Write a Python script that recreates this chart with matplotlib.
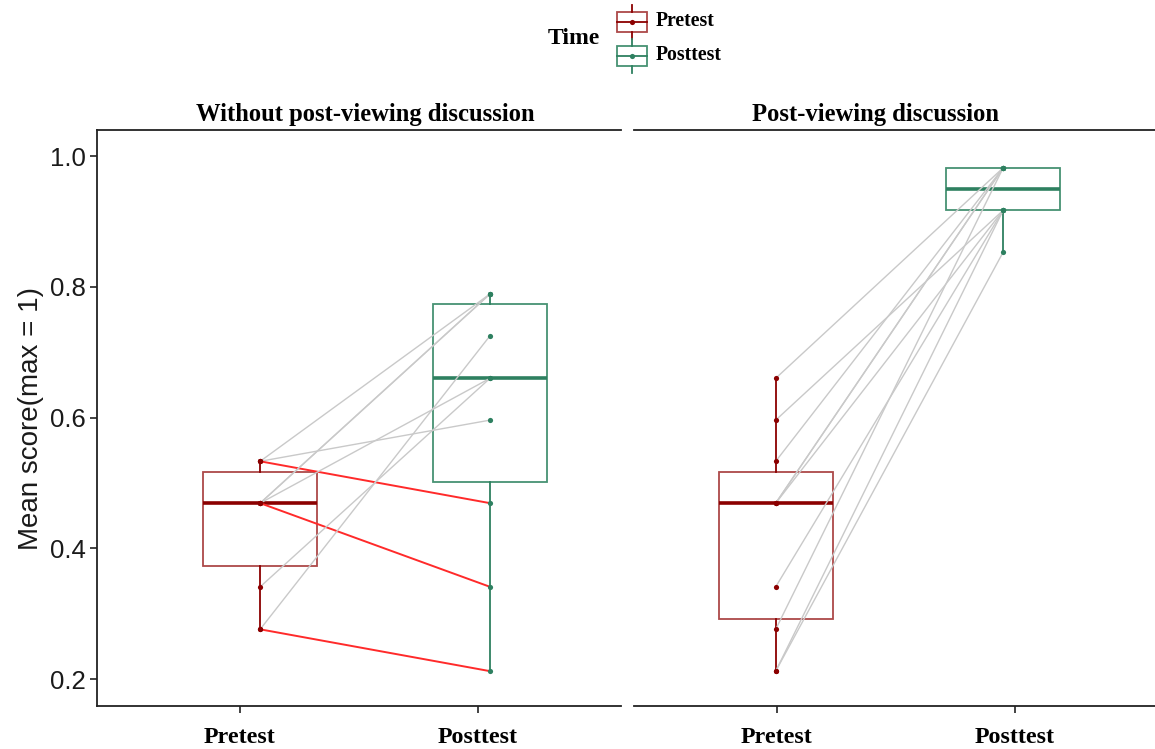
import matplotlib
matplotlib.use("Agg")
import matplotlib.pyplot as plt
import numpy as np

# ---------------- data ----------------
times = ["Pretest", "Posttest"]
panels = ["Without post-viewing discussion", "Post-viewing discussion"]

left_pre = [0.533, 0.533, 0.533, 0.469, 0.469, 0.469, 0.469, 0.341, 0.276, 0.276]
left_post = [0.789, 0.596, 0.469, 0.789, 0.789, 0.660, 0.341, 0.660, 0.725, 0.212]

right_pre = [0.660, 0.596, 0.533, 0.469, 0.469, 0.469, 0.341, 0.276, 0.212, 0.212]
right_post = [0.982, 0.917, 0.982, 0.982, 0.917, 0.982, 0.917, 0.982, 0.917, 0.853]

y_ticks = [0.2, 0.4, 0.6, 0.8, 1.0]

# ---------------- style ----------------
W, H = 1155, 749
PRE_C = "#8B0000"
PRE_EDGE = (0.62, 0.16, 0.16, 0.85)
POST_C = "#2E8060"
POST_EDGE = (0.24, 0.55, 0.42, 0.95)
GRAY = "#C9C9C9"
RED = "#FF2A2A"
SERIF = "Liberation Serif"
SANS = "Liberation Sans"

fig = plt.figure(figsize=(W / 100, H / 100), dpi=100)


def px_axes(x0, y0, x1, y1):
    return fig.add_axes([x0 / W, 1 - y1 / H, (x1 - x0) / W, (y1 - y0) / H])


ax_l = px_axes(97, 130, 621, 706)
ax_r = px_axes(634, 130, 1158, 706)

# box positions (slight offsets as in the reference)
box_pos = {0: [1.085, 2.05], 1: [0.995, 1.95]}
data = {0: (left_pre, left_post), 1: (right_pre, right_post)}

for i, ax in enumerate([ax_l, ax_r]):
    pre, post = data[i]
    pos = box_pos[i]
    for vals, p, c, ec in [(pre, pos[0], PRE_C, PRE_EDGE), (post, pos[1], POST_C, POST_EDGE)]:
        ax.boxplot([vals], positions=[p], widths=0.48, whis=1.5, showcaps=False,
                   showfliers=False, patch_artist=True,
                   boxprops=dict(facecolor="none", edgecolor=ec, linewidth=1.3),
                   whiskerprops=dict(color=c, linewidth=1.3),
                   medianprops=dict(color=c, linewidth=2.6),
                   manage_ticks=False, zorder=2)
    # paired lines
    for a, b in zip(pre, post):
        col, lw = (RED, 1.4) if b < a else (GRAY, 1.0)
        ax.plot([pos[0], pos[1]], [a, b], color=col, lw=lw, zorder=3,
                solid_capstyle="round")
    ax.scatter([pos[0]] * len(pre), pre, s=14, color=PRE_C, zorder=4, linewidths=0)
    ax.scatter([pos[1]] * len(post), post, s=14, color=POST_C, zorder=4, linewidths=0)

    ax.set_xlim(0.4, 2.6)
    ax.set_ylim(0.1587, 1.0398)
    ax.set_xticks([1, 2])
    ax.set_xticklabels(times, fontfamily=SERIF, fontweight="bold", fontsize=17.3)
    ax.tick_params(axis="x", length=5, width=1.2, colors="#222222", pad=10,
                   labelcolor="black")
    for s in ["top", "bottom", "left", "right"]:
        ax.spines[s].set_linewidth(1.3)
        ax.spines[s].set_color("#222222")
    ax.spines["right"].set_visible(False)
    ax.set_facecolor("none")

ax_l.set_yticks(y_ticks)
ax_l.set_yticklabels([f"{v:.1f}" for v in y_ticks], fontfamily=SANS, fontsize=18.5)
ax_l.tick_params(axis="y", length=5, width=1.2, colors="#222222", pad=3,
                 labelcolor="#1a1a1a")
ax_l.set_ylabel("Mean score(max = 1)", fontfamily=SANS, fontsize=20, labelpad=4,
                color="#1a1a1a")

ax_r.spines["left"].set_visible(False)
ax_r.set_yticks([])

# strip titles
fig.text(365 / W, 1 - 114 / H, panels[0], ha="center", va="center",
         fontfamily=SERIF, fontweight="bold", fontsize=17.7)
fig.text(876 / W, 1 - 114 / H, panels[1], ha="center", va="center",
         fontfamily=SERIF, fontweight="bold", fontsize=17.7)

# ---------------- legend (pixel overlay) ----------------
lg = fig.add_axes([0, 0, 1, 1], zorder=10)
lg.set_xlim(0, W)
lg.set_ylim(H, 0)
lg.axis("off")
lg.patch.set_alpha(0)

key_specs = [(PRE_C, PRE_EDGE, 22, times[0]), (POST_C, POST_EDGE, 56, times[1])]
for c, ec, yc, lab in key_specs:
    x0, x1, xc = 617, 647, 632
    lg.add_patch(plt.Rectangle((x0, yc - 10), x1 - x0, 20, fill=False, edgecolor=ec, lw=1.3))
    lg.plot([xc, xc], [yc - 17, yc - 10], color=c, lw=1.3)
    lg.plot([xc, xc], [yc + 10, yc + 17], color=c, lw=1.3)
    lg.plot([x0, x1], [yc, yc], color=c, lw=1.3)
    lg.scatter([xc], [yc], s=14, color=c, linewidths=0, zorder=5)
    lg.text(656, yc - 1, lab, ha="left", va="center", fontfamily=SERIF, fontweight="bold",
            fontsize=14.2)
lg.text(574, 39, "Time", ha="center", va="center", fontfamily=SERIF, fontweight="bold",
        fontsize=17)

fig.savefig("out.png", dpi=100, facecolor="white")
